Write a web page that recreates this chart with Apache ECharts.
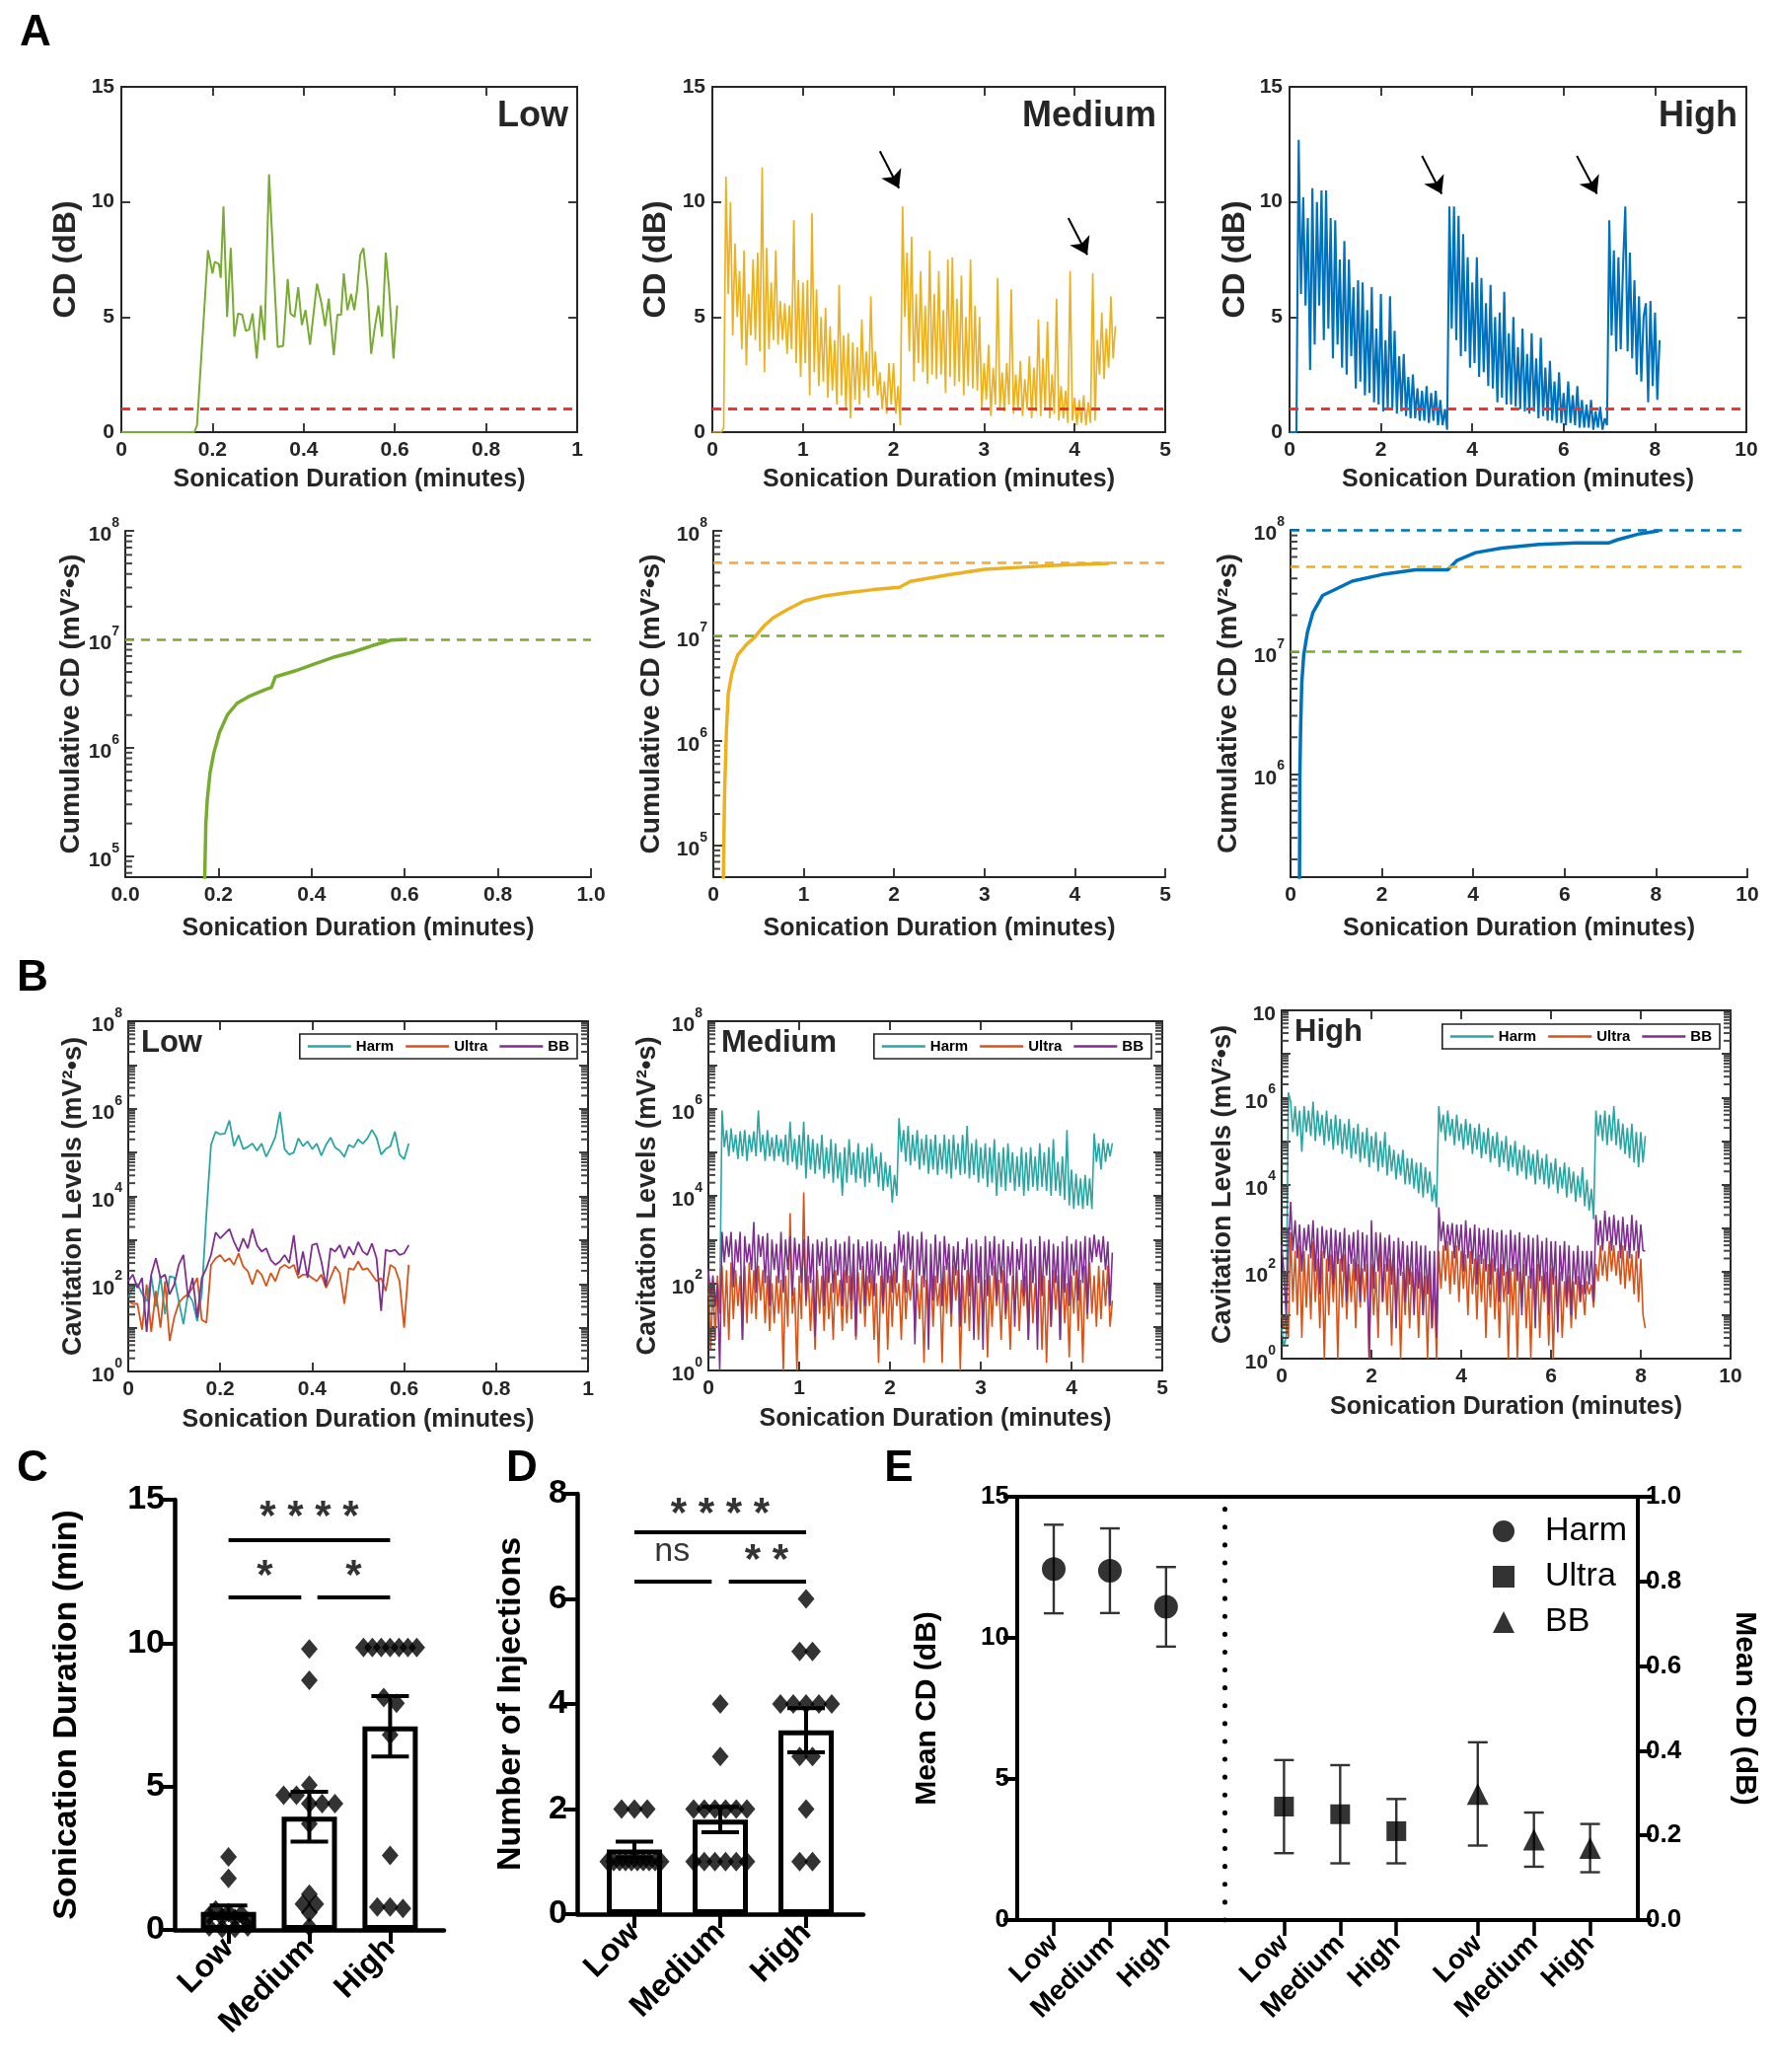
<!DOCTYPE html>
<html><head><meta charset="utf-8">
<script src="https://cdn.jsdelivr.net/npm/echarts@6/dist/echarts.min.js"></script>
<style>html,body{margin:0;padding:0;background:#fff}#c{width:1797px;height:2100px}</style>
</head><body><div id="c"></div>
<script>
// ======================= DATA =======================
const groups = ['Low', 'Medium', 'High'];

// A (top row): CD traces in dB
const cdLow = [[0,0],[0.16,0],[0.166,0.3],[0.19,7.9],[0.2,6.9],[0.205,7.4],[0.214,7.3],[0.218,6.7],[0.224,9.8],[0.232,5.0],[0.24,8.0],[0.248,4.15],[0.256,5.15],[0.265,5.1],[0.273,4.4],[0.28,4.45],[0.288,5.15],[0.297,3.2],[0.306,5.5],[0.314,4.0],[0.324,11.2],[0.343,3.7],[0.355,3.75],[0.365,6.65],[0.371,5.15],[0.38,5.0],[0.388,6.3],[0.396,4.65],[0.404,5.3],[0.414,3.8],[0.429,6.45],[0.439,5.6],[0.447,4.6],[0.455,5.8],[0.466,3.35],[0.474,5.1],[0.482,5.1],[0.488,6.9],[0.496,5.3],[0.504,6.0],[0.511,5.3],[0.517,6.15],[0.524,7.7],[0.531,8.0],[0.54,6.3],[0.548,3.4],[0.556,4.55],[0.564,5.5],[0.572,4.15],[0.58,7.8],[0.587,6.3],[0.597,3.2],[0.605,5.5]];
const cdMedStep = 0.025;
const cdMed = [0,0, 0,0, 0,0.2, 11.1,6.0, 10.0,4.2, 8.2,5.0, 7.0,3.6, 7.9,2.9, 6.0,4.2, 7.5,4.0,
  7.8,3.5, 11.5,2.6, 8.0,3.6, 6.5,4.0, 7.9,3.8, 5.7,4.0, 5.6,3.4, 5.5,3.6, 9.2,3.0, 6.6,2.4,
  6.5,3.0, 6.6,1.6, 9.5,2.6, 6.2,2.0, 5.0,2.2, 5.4,1.5, 4.6,1.8, 4.0,1.2, 6.4,1.6, 4.2,1.0,
  4.3,0.6, 3.9,1.4, 3.7,1.2, 4.9,1.8, 3.5,1.5, 5.9,2.0, 3.5,1.6, 2.6,1.0, 2.2,0.8, 3.0,1.2,
  3.0,0.8, 2.0,0.3, 9.8,5.0, 7.8,3.5, 8.5,2.2, 6.0,3.0, 7.0,2.6, 5.5,2.1, 7.9,2.5, 6.0,2.3,
  7.0,2.5, 5.3,1.7, 7.5,2.4, 7.6,2.0, 5.8,2.2, 6.8,1.6, 5.0,2.0, 7.5,1.9, 5.5,1.8, 5.0,1.0,
  3.0,1.4, 3.8,0.7, 2.8,1.2, 6.7,1.0, 2.6,0.9, 3.0,1.2, 6.2,0.8, 2.5,1.0, 3.1,0.7, 2.3,1.0,
  3.3,0.6, 2.8,0.9, 4.9,0.7, 3.2,1.0, 4.8,0.6, 2.5,0.8, 5.8,0.5, 2.0,0.6, 1.8,0.4, 7.0,0.5,
  1.5,0.3, 1.4,0.4, 1.6,0.3, 1.3,0.4, 6.9,0.5, 4.0,2.5, 5.2,2.3, 4.5,2.8, 5.9,3.2, 4.6];
const cdHighStep = 0.05;
const cdHigh = [0,0,0,0,12.7,6.0,10.2,5.5,9.3,2.7,10.6,3.8,10.0,5.5,10.5,4.0,10.5,4.5,9.3,3.2,9.2,3.8,7.5,2.8,8.3,2.5,7.5,3.3,6.3,1.9,6.6,2.2,6.5,1.6,5.3,1.7,6.3,1.3,4.5,1.2,6.0,0.9,4.0,1.0,5.9,1.0,4.4,0.8,3.3,0.9,3.4,0.7,2.4,0.6,2.5,0.6,1.9,0.5,1.8,0.5,2.0,0.4,1.7,0.5,1.8,0.3,1.4,0.3,1.0,0.1,9.8,4.5,9.8,4.0,9.4,3.3,8.6,3.5,7.6,2.8,6.5,3.0,7.6,2.4,6.7,2.6,5.6,2.0,6.4,1.9,5.0,1.3,5.2,1.5,6.1,1.2,4.3,1.2,5.0,1.1,3.7,1.0,4.5,0.9,3.4,0.8,4.3,0.9,3.2,0.6,4.1,0.7,2.8,0.5,3.1,0.5,2.2,0.4,2.6,0.4,1.7,0.3,2.2,0.4,1.6,0.3,2.0,0.2,1.4,0.2,1.2,0.2,1.4,0.1,0.9,0.2,1.1,0.1,0.6,0.3,9.2,4.2,7.9,3.5,7.6,3.6,7.2,9.8,3.5,7.8,3.2,6.6,2.5,5.9,2.2,5.0,5.6,1.3,5.7,2.0,5.2,1.4,4.0];
const cdThreshold = 1;
const arrowsMed = [[[1.85,12.2],[2.06,10.6]], [[3.93,9.3],[4.14,7.7]]];
const arrowsHigh = [[[2.9,12.0],[3.33,10.35]], [[6.29,12.0],[6.73,10.35]]];

// A (second row): cumulative CD (mV^2*s)
const cumLow = [[0.170,5e4],[0.173,2e5],[0.176,3.3e5],[0.182,5.9e5],[0.19,8.9e5],[0.202,1.38e6],[0.219,2.0e6],[0.24,2.57e6],[0.264,2.95e6],[0.298,3.4e6],[0.314,3.6e6],[0.322,4.5e6],[0.364,5.1e6],[0.405,5.9e6],[0.446,6.8e6],[0.488,7.6e6],[0.529,8.7e6],[0.57,9.8e6],[0.605,1.0e7]];
const cumMed = [[0.11,4e4],[0.123,2.8e5],[0.144,1.2e6],[0.165,2.8e6],[0.206,4.4e6],[0.267,6.5e6],[0.37,8.3e6],[0.45,9.5e6],[0.556,1.23e7],[0.66,1.48e7],[0.82,1.78e7],[1.0,2.14e7],[1.23,2.4e7],[1.48,2.57e7],[1.77,2.75e7],[2.06,2.9e7],[2.18,3.3e7],[2.59,3.8e7],[3.0,4.3e7],[3.42,4.5e7],[3.83,4.7e7],[4.38,4.9e7]];
const cumHigh = [[0.195,1e5],[0.205,1e6],[0.22,2.3e6],[0.245,5.5e6],[0.29,9.5e6],[0.37,1.45e7],[0.49,2.1e7],[0.7,2.9e7],[0.94,3.2e7],[1.35,3.8e7],[2.0,4.3e7],[2.74,4.7e7],[3.44,4.7e7],[3.64,5.6e7],[4.05,6.5e7],[4.62,7.1e7],[5.44,7.6e7],[6.26,7.8e7],[6.96,7.8e7],[7.16,8.3e7],[7.65,9.3e7],[8.06,9.8e7]];
const cumTargets = [1e7, 5e7, 1e8];

// B: cavitation levels (mV^2*s)
const bLowStep = 0.01;
const harmLow = [50,80,100,60,40,150,30,150,20,150,140,40,12,60,40,14,60,4e3,1.5e5,3e5,2.6e5,2.7e5,5.4e5,1.4e5,2.5e5,1.2e5,1.35e5,1.6e5,1.1e5,1.6e5,8e4,1.3e5,2.3e5,8.5e5,1.2e5,9e4,1e5,2.1e5,1.4e5,1.8e5,1.2e5,1.6e5,8.5e4,1.5e5,2.2e5,1.3e5,1.1e5,8e4,1.5e5,1.3e5,2e5,1.6e5,2.1e5,3.3e5,2.2e5,9e4,1.2e5,1.4e5,3e5,9e4,7e4,1.6e5];
const ultraLow = [41,35,35,9,97,8,69,10,115,5,17,37,49,58,81,137,15,13,273,387,458,325,387,273,500,250,195,97,210,163,89,177,115,229,273,229,273,137,163,163,137,115,163,81,137,250,177,35,229,210,325,210,229,163,115,137,69,273,229,115,10,273];
const bbLow = [115,163,81,137,8,163,387,137,163,58,97,273,458,49,137,17,137,229,458,1.5e3,1.1e3,1.4e3,1.8e3,910,550,1.1e3,650,1.8e3,770,550,650,350,273,325,458,300,1.3e3,163,550,137,770,840,325,89,650,550,770,387,710,458,910,550,458,840,387,24,600,550,600,458,500,770];
const bMedStep = 0.025;
const harmMed = [60,30, 100,40, 60,30, 9e5,1.3e5, 3.2e5,8e4, 3.5e5,1e5, 2.5e5,7e4, 3e5,8e4, 3.2e5,6.3e4, 2.5e5,1e5,
  3e5,8e4, 9e5,1e5, 2.5e5,6.3e4, 3.2e5,8e4, 2.2e5,6.3e4, 2.5e5,8e4, 2e5,6e4, 2.5e5,5e4, 5e5,6e4, 2e5,4e4,
  2.5e5,5e4, 5e5,2.5e4, 2.5e5,4e4, 2e5,3.2e4, 1.6e5,4e4, 2.5e5,2.5e4, 1.3e5,3.2e4, 2e5,2e4, 1.6e5,2.5e4, 1e5,1e4,
  1.3e5,2e4, 2e5,3e4, 1e5,2e4, 1.6e5,2.5e4, 1e5,1.6e4, 1.3e5,2e4, 1.6e5,3.2e4, 8e4,1.6e4, 1e5,1.3e4, 6e4,1.6e4,
  5e4,7e3, 3e4,1e4, 6e5,1e5, 3.2e5,6e4, 4e5,5e4, 2.5e5,6.3e4, 3.2e5,4e4, 2e5,5e4, 2.5e5,3.2e4, 2e5,4e4,
  2.5e5,3e4, 1.6e5,4e4, 2.5e5,3.2e4, 2e5,2.5e4, 2.5e5,4e4, 1.6e5,3e4, 2.5e5,3.2e4, 4e5,2.5e4, 1.6e5,3e4, 2e5,2e4,
  1.3e5,2.5e4, 1.6e5,1.6e4, 1.3e5,2e4, 2e5,1e4, 1e5,1.6e4, 1.3e5,1.3e4, 1.6e5,2e4, 1e5,1.3e4, 8e4,1.6e4, 1.3e5,1e4,
  1e5,1.3e4, 1.3e5,1.6e4, 8e4,1.3e4, 1.6e5,1.6e4, 1e5,1.3e4, 1.3e5,1e4, 2e5,1.3e4, 6e4,1e4, 8e4,8e3, 3.2e5,6e3,
  4e4,5e3, 3.2e4,6e3, 2.5e4,5e3, 3e4,6e3, 2.5e4,5e3, 2.7e5,6e4, 1.6e5,4e4, 2e5,6e4, 1.6e5,8e4, 1.6e5];
const ultraMed = [200,3, 100,5, 150,20, 250,10, 200,5, 300,15, 200,30, 150,5, 250,12, 300,20,
  200,15, 250,40, 200,12, 150,8, 100,12, 150,20, 120,1, 150,10, 4e3,20, 80,1,
  150,15, 1.2e4,30, 150,8, 120,3, 200,20, 150,8, 250,15, 100,5, 200,30, 120,8,
  200,12, 150,15, 250,5, 180,20, 250,10, 150,30, 200,5, 100,1.5, 150,20, 250,3,
  150,10, 200,30, 100,5, 250,15, 120,40, 200,8, 100,15, 150,1.5, 120,20, 200,10,
  150,30, 100,1.5, 250,20, 300,10, 250,40, 200,1, 150,12, 200,8, 250,20, 150,5,
  200,15, 120,2, 150,10, 250,30, 120,5, 200,15, 100,3, 150,20, 200,8, 120,30,
  150,5, 200,12, 100,20, 250,3, 150,1.5, 120,10, 200,25, 150,5, 250,12, 100,2,
  150,20, 200,8, 120,1.5, 250,15, 300,20, 150,10, 250,15, 200,30, 250,10, 40];
const bbMed = [200,50, 150,30, 100,1, 1.5e3,300, 1.2e3,400, 1.5e3,80, 1e3,300, 1.5e3,5, 1.2e3,300, 800,200,
  2.5e3,60, 1.3e3,400, 1.2e3,100, 1.4e3,30, 1e3,200, 800,100, 1.5e3,60, 1e3,200, 1.2e3,50, 1.1e3,200,
  800,100, 1e3,40, 1.2e3,100, 800,6, 1e3,250, 900,30, 1.1e3,100, 700,60, 1e3,150, 800,30,
  900,100, 1.2e3,40, 800,6, 1e3,200, 700,30, 900,100, 1e3,50, 800,150, 900,30, 700,100,
  500,60, 800,100, 1.6e3,300, 1.3e3,60, 1.5e3,200, 1.2e3,4, 1e3,150, 1.5e3,80, 1e3,3, 800,40,
  1.3e3,100, 900,30, 1.2e3,200, 800,20, 700,150, 900,10, 600,200, 1.1e3,50, 800,5, 1e3,100,
  700,3, 1.2e3,50, 900,150, 1.2e3,40, 800,100, 1e3,20, 700,150, 900,10, 600,200, 1.1e3,50,
  800,5, 1e3,100, 700,3, 1.2e3,50, 900,150, 1e3,10, 800,100, 700,5, 900,60, 1.2e3,30,
  800,150, 1e3,40, 900,100, 1.2e3,20, 1.1e3,300, 1.3e3,400, 1e3,300, 1.2e3,200, 900,30, 500];
const bHighStep = 0.05;
const harmHigh = [5,2, 3,1.3e6, 8e5,1.6e5, 6.3e5,1.3e5, 5e5,5.6e4, 6.3e5,1.6e5, 5e5,1.3e5, 8e5,1e5, 5e5,1.3e5, 4e5,8e4,
  5e5,1e5, 3.2e5,6.3e4, 4e5,8e4, 3.2e5,5e4, 2.5e5,6.3e4, 3.2e5,4e4, 2e5,5e4, 2.5e5,3.2e4, 1.6e5,4e4, 2e5,2.5e4,
  1.3e5,3.2e4, 1.6e5,2e4, 1e5,2.5e4, 1.6e5,1.6e4, 8e4,2e4, 6.3e4,1.3e4, 5e4,1.6e4, 6.3e4,1e4, 4e4,1e4, 4e4,8e3,
  3.2e4,6.3e3, 3.2e4,5e3, 2.5e4,6.3e3, 2e4,4e3, 1e4,3e3, 6.3e5,1.6e5, 4e5,1e5, 5e5,1.3e5, 3.2e5,8e4, 4e5,1e5,
  2.5e5,6.3e4, 3.2e5,8e4, 2.5e5,5e4, 2e5,6.3e4, 2.5e5,4e4, 1.6e5,5e4, 2e5,3.2e4, 1.3e5,4e4, 1.6e5,2.5e4, 1e5,3.2e4,
  1.3e5,2e4, 8e4,2.5e4, 1e5,1.6e4, 6.3e4,2e4, 8e4,1.3e4, 6.3e4,1.6e4, 5e4,1e4, 6.3e4,1.3e4, 4e4,1e4, 5e4,8e3,
  3.2e4,1e4, 4e4,6.3e3, 2.5e4,8e3, 3.2e4,5e3, 2.5e4,6.3e3, 2e4,4e3, 1.6e4,5e3, 2.5e4,3.2e3, 1.3e4,2.5e3, 8e3,1.6e3,
  5e5,1.3e5, 4e5,1e5, 5e5,8e4, 4e5,1e5, 6.3e5,8e4, 3.2e5,6.3e4, 2.5e5,5e4, 2e5,4e4, 2.5e5,3.2e4, 1.6e5,2.5e4,
  1.6e5,3.2e4, 1.3e5];
const ultraHigh = [10,5, 8,3, 800,20, 300,10, 400,3, 300,15, 250,8, 500,20, 200,5, 300,1,
  200,10, 250,20, 300,1, 200,15, 250,8, 150,20, 200,5, 150,15, 120,20, 150,1,
  150,10, 100,3, 800,20, 150,10, 200,2, 150,15, 120,1, 100,10, 150,5, 100,20,
  120,3, 100,10, 80,1, 100,5, 60,1, 300,40, 400,60, 500,30, 300,50, 400,20,
  300,40, 250,10, 300,30, 200,8, 250,20, 200,3, 150,15, 200,8, 120,3, 150,20,
  100,1, 120,10, 150,1, 100,15, 150,5, 80,1, 120,10, 150,3, 80,20, 100,2,
  120,1, 80,10, 100,3, 60,15, 80,5, 60,8, 80,20, 50,10, 60,30, 50,15,
  150,60, 400,80, 300,60, 500,100, 400,80, 300,50, 400,40, 300,60, 250,30, 300,20,
  200,10, 5];
const bbHigh = [400,100, 10,300, 4e3,300, 1.5e3,200, 1.2e3,100, 1e3,300, 1.2e3,200, 1.5e3,100, 1e3,30, 1.1e3,200,
  900,100, 1e3,50, 900,150, 800,100, 1e3,20, 700,150, 800,60, 900,20, 800,100, 700,1,
  1.5e3,40, 800,100, 700,20, 600,100, 700,50, 500,5, 600,80, 500,20, 400,50, 500,10,
  500,40, 400,10, 400,30, 300,5, 300,3, 3e3,500, 1.4e3,300, 1.2e3,400, 1.3e3,200, 1.2e3,300,
  1.2e3,100, 1.5e3,200, 1e3,150, 1.2e3,50, 1e3,150, 900,100, 1e3,50, 900,100, 800,20, 900,80,
  700,30, 900,100, 700,60, 800,10, 600,80, 700,40, 600,5, 700,60, 500,30, 600,10,
  500,50, 500,4, 400,60, 500,20, 400,10, 300,50, 400,20, 300,30, 300,50, 300,20,
  2e3,400, 1.5e3,300, 2.5e3,500, 1.8e3,300, 2e3,400, 1.5e3,200, 1.8e3,300, 1.2e3,200, 2e3,300, 1.5e3,200,
  1.2e3,300, 300];

// C: sonication duration (min)
const durLow = [2.55,1.8,0.7,0.6,0.55,0.5,0.45,0.4,0.3,0.1,0.05,0.05,0.1];
const durMed = [9.8,8.7,5.05,4.7,4.7,4.4,4.4,4.4,3.7,1.25,0.9,0.9,0.6,0.1];
const durHigh = [9.85,9.85,9.85,9.85,9.85,9.85,9.85,8.1,7.9,6.8,2.6,0.8,0.8,0.75];
const durMean = [0.63, 3.95, 7.1];
const durSem = [0.22, 0.87, 1.05];
const durSig = [{s:'* * * *', from:1, to:3, line:13.6, text:14.35, at:2}, {s:'*', from:1, to:1.9, line:11.6, text:12.3, at:1.45}, {s:'*', from:2.1, to:3, line:11.6, text:12.3, at:2.55}];

// D: number of injections
const injLow = [2,2,2,1,1,1,1,1,1,1,1,1,1];
const injMed = [4,3,2,2,2,2,2,2,1,1,1,1,1,1];
const injHigh = [6,5,5,4,4,4,4,4,3,3,2,1,1];
const injMean = [1.23, 1.8, 3.5];
const injSem = [0.15, 0.24, 0.42];
const injSig = [{s:'* * * *', from:1, to:3, line:7.27, text:7.6, at:2}, {s:'ns', from:1, to:1.9, line:6.33, text:6.9, at:1.44, regular:true}, {s:'* *', from:2.1, to:3, line:6.33, text:6.71, at:2.54}];

// E: mean CD (dB) - Harm on left axis, Ultra/BB on right axis
const eHarmMean = [12.44, 12.38, 11.1],  eHarmSd = [1.57, 1.5, 1.41];
const eUltraMean = [0.268, 0.25, 0.21], eUltraSd = [0.11, 0.116, 0.076];
const eBBMean = [0.298, 0.19, 0.17],    eBBSd = [0.122, 0.064, 0.057];

// ======================= LAYOUT / STYLE =======================
const FF = '"Liberation Sans", Arial, Helvetica, sans-serif';
const AX = '#262626', K = '#000';
const COL = {low:'#77AC30', med:'#EDB120', high:'#0072BD', red:'#FF2D2D', harm:'#2AA6A2', ultra:'#D95319', bb:'#7E2F8E'};
const LAY = {
  a1: [{l:123,t:88,w:462,h:350},{l:722,t:88,w:459,h:350},{l:1307,t:88,w:463,h:350}],
  a2: [{l:127,t:538,w:472,h:351},{l:723,t:538,w:458,h:351},{l:1308,t:537,w:463,h:352}],
  b:  [{l:130,t:1035,w:466,h:355},{l:718,t:1035,w:460,h:354},{l:1299,t:1024,w:455,h:353}],
  c: {l:177,t:1520,w:273,h:436},
  d: {l:585,t:1514,w:290,h:426},
  e: {l:1031,t:1517,w:629,h:429}
};
const eGroupStart = [1, 5.1, 8.55];
const eDivider = 4.05;

// ======================= BUILD =======================
const opt = {animation:false, backgroundColor:'#fff', textStyle:{fontFamily:FF}, grid:[], xAxis:[], yAxis:[], series:[], legend:[], graphic:[]};
const addGrid = b => { opt.grid.push({left:b.l, top:b.t, width:b.w, height:b.h, containLabel:false, outerBoundsMode:'none'}); return opt.grid.length - 1; };
const xa = o => { opt.xAxis.push(o); return opt.xAxis.length - 1; };
const ya = o => { opt.yAxis.push(o); return opt.yAxis.length - 1; };
const lbl = (size, extra) => Object.assign({fontSize:size, fontWeight:'bold', color:AX, fontFamily:FF}, extra || {});
const gridded = (arr, step) => arr.map((v, i) => [Math.round(i * step * 1000) / 1000, v]);
const noSplit = {show:false};

const supRich = {
  b: {fontSize:21, fontWeight:'bold', color:AX, fontFamily:FF, lineHeight:30, verticalAlign:'bottom'},
  s: {fontSize:14, fontWeight:'bold', color:AX, fontFamily:FF, verticalAlign:'top'}
};
function supFmt(hideOdd, plainTop) {
  return function (v) {
    const e = Math.round(Math.log10(v));
    if (Math.abs(v / Math.pow(10, e) - 1) > 1e-6) return '';
    if (hideOdd && e % 2) return '';
    if (plainTop != null && e === plainTop) return '{b|10}';
    return '{b|10}{s|' + e + '}';
  };
}

function matlabAxes(gi, xs, ys, yName, yGap, box) {
  const L = {show:true, onZero:false, lineStyle:{color:AX, width:2}};
  const T = {show:true, inside:true, length:9, lineStyle:{color:AX, width:1.8}};
  const xScale = {type:'value', min:xs.min, max:xs.max, interval:xs.interval};
  const x = xa(Object.assign({gridIndex:gi, position:'bottom', axisLine:L, axisTick:T, splitLine:noSplit,
    axisLabel: lbl(21, {margin:8, formatter: xs.fmt, showMinLabel:true, showMaxLabel:true}),
    name:'Sonication Duration (minutes)', nameLocation:'middle', nameGap:xs.nameGap, nameTextStyle: lbl(25)}, xScale));
  const y = ya(Object.assign({gridIndex:gi, position:'left', axisLine:L, axisTick:T, splitLine:noSplit,
    axisLabel: ys.label, name:yName, nameLocation:'middle', nameRotate:90, nameGap:yGap, nameTextStyle: lbl(ys.nameSize)}, ys.scale));
  if (box) {
    xa(Object.assign({gridIndex:gi, position:'top', axisLine:L, axisTick:T, axisLabel:{show:false}, splitLine:noSplit}, xScale));
    ya(Object.assign({gridIndex:gi, position:'right', axisLine:L, axisTick:T, axisLabel:{show:false}, splitLine:noSplit}, ys.scale));
  }
  return {x, y};
}
function line(ax, data, color, width, extra) {
  opt.series.push(Object.assign({type:'line', xAxisIndex:ax.x, yAxisIndex:ax.y, data, symbol:'none', showSymbol:false,
    lineStyle:{color, width}, itemStyle:{color}, silent:true, z:3}, extra || {}));
}
function hLines(items) {
  return {silent:true, symbol:['none','none'], label:{show:false}, animation:false,
    data: items.map(it => ({yAxis: it.v, lineStyle:{color:it.c, width:it.w, type:it.d}}))};
}
// minor ticks of a log axis (2..9 x 10^n), drawn through the axis scale
function logMinorTicks(xi, yi, ymin, ymax, xAt, dir, len) {
  const vals = [];
  for (let e = Math.floor(Math.log10(ymin)); e < Math.ceil(Math.log10(ymax)); e++) {
    for (let m = 2; m <= 9; m++) { const v = m * Math.pow(10, e); if (v > ymin && v < ymax) vals.push([xAt, v]); }
  }
  opt.series.push({type:'custom', xAxisIndex:xi, yAxisIndex:yi, silent:true, z:4, clip:false, data: vals,
    renderItem: (p, api) => {
      const c = api.coord([api.value(0), api.value(1)]);
      return {type:'line', shape:{x1:c[0], y1:c[1], x2:c[0] + dir * len, y2:c[1]}, style:{stroke:'#444', lineWidth:2}};
    }});
}
function txt(text, x, y, size, align, weight, color) {
  opt.graphic.push({type:'text', silent:true, z:100, style:{text, x, y, textAlign:align, textVerticalAlign:'middle',
    font:(weight || 'bold') + ' ' + size + 'px ' + FF, fill: color || AX}});
}

// ---------- Panel A, row 1 ----------
const a1Defs = [
  {data: cdLow, color: COL.low, xmax:1, xint:0.2, yGap:40, name:'Low', arrows:null, w:2},
  {data: gridded(cdMed, cdMedStep), color: COL.med, xmax:5, xint:1, yGap:41, name:'Medium', arrows:arrowsMed, w:1.7},
  {data: gridded(cdHigh, cdHighStep), color: COL.high, xmax:10, xint:2, yGap:39, name:'High', arrows:arrowsHigh, w:2.1}
];
a1Defs.forEach((d, i) => {
  const b = LAY.a1[i];
  const gi = addGrid(b);
  const ax = matlabAxes(gi, {min:0, max:d.xmax, interval:d.xint, nameGap:36},
    {scale:{type:'value', min:0, max:15, interval:5}, label: lbl(21, {margin:7}), nameSize:32}, 'CD (dB)', d.yGap, true);
  line(ax, d.data, d.color, d.w, {markLine: hLines([{v:cdThreshold, c:COL.red, w:3, d:[9,7]}])});
  if (d.arrows) {
    opt.series.push({type:'lines', coordinateSystem:'cartesian2d', xAxisIndex:ax.x, yAxisIndex:ax.y, silent:true, z:6,
      symbol:['none','arrow'], symbolSize:17, lineStyle:{color:K, width:2, opacity:1, curveness:0},
      data: d.arrows.map(c => ({coords:c}))});
  }
  txt(d.name, b.l + b.w - 9, b.t + 30, 36, 'right', 'bold', AX);
});

// ---------- Panel A, row 2 ----------
const a2Defs = [
  {data: cumLow, color: COL.low, xmax:1, xint:0.2, ymin:6.4e4, yGap:39, fmt: v => v.toFixed(1), lines:[{v:cumTargets[0], c:COL.low}]},
  {data: cumMed, color: COL.med, xmax:5, xint:1, ymin:5e4, yGap:49, fmt:null, lines:[{v:cumTargets[1], c:COL.med}, {v:cumTargets[0], c:COL.low}]},
  {data: cumHigh, color: COL.high, xmax:10, xint:2, ymin:1.43e5, yGap:49, fmt:null, lines:[{v:cumTargets[2], c:COL.high}, {v:cumTargets[1], c:COL.med}, {v:cumTargets[0], c:COL.low}]}
];
a2Defs.forEach((d, i) => {
  const b = LAY.a2[i];
  const gi = addGrid(b);
  const ax = matlabAxes(gi, {min:0, max:d.xmax, interval:d.xint, nameGap:40, fmt: d.fmt || undefined},
    {scale:{type:'log', logBase:10, min:d.ymin, max:1e8}, label: lbl(21, {margin:6, formatter: supFmt(false, null), rich: supRich}), nameSize:28},
    'Cumulative CD (mV²•s)', d.yGap, false);
  logMinorTicks(ax.x, ax.y, d.ymin, 1e8, 0, 1, 7);
  line(ax, d.data, d.color, 3.5, {markLine: hLines(d.lines.map(l => ({v:l.v, c:l.c, w:2.6, d:[9,7]})))});
});

// ---------- Panel B ----------
const bDefs = [
  {step:bLowStep, harm:harmLow, ultra:ultraLow, bb:bbLow, xmax:1, xint:0.2, yGap:42, name:'Low', plainTop:null, w:1.8},
  {step:bMedStep, harm:harmMed, ultra:ultraMed, bb:bbMed, xmax:5, xint:1, yGap:48, name:'Medium', plainTop:null, w:1.6},
  {step:bHighStep, harm:harmHigh, ultra:ultraHigh, bb:bbHigh, xmax:10, xint:2, yGap:46, name:'High', plainTop:8, w:1.6}
];
bDefs.forEach((d, i) => {
  const b = LAY.b[i];
  const gi = addGrid(b);
  const ax = matlabAxes(gi, {min:0, max:d.xmax, interval:d.xint, nameGap:37},
    {scale:{type:'log', logBase:10, min:1, max:1e8}, label: lbl(21, {margin:6, formatter: supFmt(true, d.plainTop), rich: supRich}), nameSize:27},
    'Cavitation Levels (mV²•s)', d.yGap, true);
  logMinorTicks(ax.x, ax.y, 1, 1e8, 0, 1, 7);
  logMinorTicks(ax.x, ax.y, 1, 1e8, d.xmax, -1, 7);
  line(ax, gridded(d.harm, d.step), COL.harm, d.w, {name:'Harm'});
  line(ax, gridded(d.ultra, d.step), COL.ultra, d.w, {name:'Ultra'});
  line(ax, gridded(d.bb, d.step), COL.bb, d.w, {name:'BB'});
  opt.legend.push({data:['Harm','Ultra','BB'], selectedMode:false, orient:'horizontal', icon:'rect',
    right: 1797 - (b.l + b.w) + 11, top: b.t + (i === 2 ? 14 : 13), itemWidth:44, itemHeight:2.5, itemGap:12,
    padding:[5,8,5,8], borderColor:'#222', borderWidth:1.6, backgroundColor:'#fff',
    textStyle: lbl(15, {color:K})});
  txt(d.name, b.l + 13, b.t + 22, 31, 'left', 'bold', AX);
});

// ---------- Prism-style helpers (C, D) ----------
const PL = w => ({show:true, onZero:false, lineStyle:{color:K, width:w}});
const PT = (len, w) => ({show:true, inside:false, length:len, lineStyle:{color:K, width:w}});
function errBars(xi, yi, rows, color, capHalf, width, z) {
  opt.series.push({type:'custom', xAxisIndex:xi, yAxisIndex:yi, silent:true, z: z || 4, data: rows, encode:{x:0, y:[1,2]},
    renderItem: (p, api) => {
      const x = api.value(0), lo = api.value(1), hi = api.value(2);
      const a = api.coord([x, lo]), c = api.coord([x, hi]);
      const st = {stroke: color, lineWidth: width};
      return {type:'group', children:[
        {type:'line', shape:{x1:a[0], y1:a[1], x2:c[0], y2:c[1]}, style:st},
        {type:'line', shape:{x1:a[0]-capHalf, y1:a[1], x2:a[0]+capHalf, y2:a[1]}, style:st},
        {type:'line', shape:{x1:c[0]-capHalf, y1:c[1], x2:c[0]+capHalf, y2:c[1]}, style:st}
      ]};
    }});
}
function swarmOffsets(vals, bin, maxSp, maxW) {
  const g = new Map();
  vals.forEach((v, i) => { const k = Math.round(v / bin); if (!g.has(k)) g.set(k, []); g.get(k).push(i); });
  const off = vals.map(() => 0);
  g.forEach(idx => { const n = idx.length; const sp = n > 1 ? Math.min(maxSp, maxW / (n - 1)) : 0; idx.forEach((i, j) => { off[i] = (j - (n - 1) / 2) * sp; }); });
  return off;
}
function prismPanel(box, cfg) {
  const gi = addGrid(box);
  const pos = groups.map((g, i) => i + 1);
  const x = xa({gridIndex:gi, type:'value', min:1/3, max:11/3, axisLine:PL(4.5), splitLine:noSplit,
    axisTick: Object.assign(PT(14, 4), {customValues:pos}),
    axisLabel: lbl(32, {color:K, customValues:pos, rotate:45, margin:14, formatter: v => groups[Math.round(v) - 1]})});
  const y = ya({gridIndex:gi, type:'value', min:0, max:cfg.ymax, interval:cfg.yint, axisLine:PL(4.5), axisTick:PT(14, 4), splitLine:noSplit,
    axisLabel: lbl(34, {color:K, margin:10}), name:cfg.yName, nameLocation:'middle', nameRotate:90, nameGap:cfg.yGap, nameTextStyle: lbl(34, {color:K})});
  opt.series.push({type:'bar', xAxisIndex:x, yAxisIndex:y, barWidth:56, silent:true, z:2,
    data: cfg.means.map((m, i) => [pos[i], m]), itemStyle:{color:'#fff', borderColor:K, borderWidth:5}});
  errBars(x, y, cfg.means.map((m, i) => [pos[i], m - cfg.sems[i], m + cfg.sems[i]]), K, 19, 4, 3);
  cfg.points.forEach((vals, i) => {
    const off = swarmOffsets(vals, cfg.bin, 13, 54);
    opt.series.push({type:'scatter', xAxisIndex:x, yAxisIndex:y, symbol:'diamond', symbolSize:[17,20], silent:true, z:5,
      itemStyle:{color:K}, data: vals.map((v, j) => ({value:[pos[i], v], symbolOffset:[off[j], 0]}))});
  });
  opt.series.push({type:'lines', coordinateSystem:'cartesian2d', xAxisIndex:x, yAxisIndex:y, silent:true, z:5, symbol:'none',
    lineStyle:{color:K, width:4, opacity:1}, data: cfg.sig.map(s => ({coords:[[s.from, s.line], [s.to, s.line]]}))});
  opt.series.push({type:'scatter', xAxisIndex:x, yAxisIndex:y, symbolSize:1, silent:true, z:6, itemStyle:{color:'rgba(0,0,0,0)'},
    data: cfg.sig.map(s => ({value:[s.at, s.text], label:{show:true, position:'inside', formatter:s.s, color:K, fontFamily:FF,
      fontSize: s.regular ? 34 : 42, fontWeight: s.regular ? 'normal' : 'bold'}}))});
}
prismPanel(LAY.c, {ymax:15, yint:5, yName:'Sonication Duration (min)', yGap:92, means:durMean, sems:durSem,
  points:[durLow, durMed, durHigh], bin:0.35, sig:durSig});
prismPanel(LAY.d, {ymax:8, yint:2, yName:'Number of Injections', yGap:50, means:injMean, sems:injSem,
  points:[injLow, injMed, injHigh], bin:0.5, sig:injSig});

// ---------- Panel E ----------
(function () {
  const b = LAY.e;
  const gi = addGrid(b);
  const posH = groups.map((g, i) => eGroupStart[0] + i);
  const posU = groups.map((g, i) => eGroupStart[1] + i);
  const posB = groups.map((g, i) => eGroupStart[2] + i);
  const allPos = posH.concat(posU, posB);
  const labelAt = v => { const k = allPos.findIndex(p => Math.abs(p - v) < 1e-6); return k < 0 ? '' : groups[k % 3]; };
  const xMin = 0.35, xMax = 11.4;
  const x = xa({gridIndex:gi, type:'value', min:xMin, max:xMax, position:'bottom', axisLine:PL(4), splitLine:noSplit,
    axisTick: Object.assign(PT(16, 3.5), {customValues:allPos}),
    axisLabel: lbl(28, {color:K, customValues:allPos, rotate:45, margin:20, formatter:labelAt})});
  xa({gridIndex:gi, type:'value', min:xMin, max:xMax, position:'top', axisLine:PL(4), axisTick:{show:false}, axisLabel:{show:false}, splitLine:noSplit});
  const yl = ya({gridIndex:gi, type:'value', min:0, max:15, interval:5, position:'left', axisLine:PL(4), axisTick:PT(14, 4), splitLine:noSplit,
    axisLabel: lbl(26, {color:K, margin:8}), name:'Mean CD (dB)', nameLocation:'middle', nameRotate:90, nameGap:76, nameTextStyle: lbl(30, {color:K})});
  const yr = ya({gridIndex:gi, type:'value', min:0, max:1, interval:0.2, position:'right', axisLine:PL(4), axisTick:PT(14, 4), splitLine:noSplit,
    axisLabel: lbl(26, {color:K, margin:8, formatter: v => v.toFixed(1)}), name:'Mean CD (dB)', nameLocation:'middle', nameRotate:-90, nameGap:93, nameTextStyle: lbl(30, {color:K})});
  opt.series.push({type:'lines', coordinateSystem:'cartesian2d', xAxisIndex:x, yAxisIndex:yl, silent:true, z:2, symbol:'none',
    lineStyle:{color:K, width:5, type:[0.1, 18], cap:'round', opacity:1}, data:[{coords:[[eDivider, 0], [eDivider, 15]]}]});
  const ec = '#333';
  errBars(x, yl, eHarmMean.map((m, i) => [posH[i], m - eHarmSd[i], m + eHarmSd[i]]), ec, 10, 2.4, 3);
  errBars(x, yr, eUltraMean.map((m, i) => [posU[i], m - eUltraSd[i], m + eUltraSd[i]]), ec, 10, 2.4, 3);
  errBars(x, yr, eBBMean.map((m, i) => [posB[i], m - eBBSd[i], m + eBBSd[i]]), ec, 10, 2.4, 3);
  opt.series.push({type:'scatter', name:'eHarm', xAxisIndex:x, yAxisIndex:yl, symbol:'circle', symbolSize:24, itemStyle:{color:K}, silent:true, z:5,
    data: eHarmMean.map((m, i) => [posH[i], m])});
  opt.series.push({type:'scatter', name:'eUltra', xAxisIndex:x, yAxisIndex:yr, symbol:'rect', symbolSize:20, itemStyle:{color:K}, silent:true, z:5,
    data: eUltraMean.map((m, i) => [posU[i], m])});
  opt.series.push({type:'scatter', name:'eBB', xAxisIndex:x, yAxisIndex:yr, symbol:'triangle', symbolSize:22, itemStyle:{color:K}, silent:true, z:5,
    data: eBBMean.map((m, i) => [posB[i], m])});
  opt.legend.push({data:['eHarm','eUltra','eBB'], selectedMode:false, orient:'vertical', left:1508, top:1530,
    itemWidth:22, itemHeight:22, itemGap:12, formatter: n => n.slice(1),
    textStyle:{fontSize:34, fontWeight:'normal', color:K, fontFamily:FF, padding:[0,0,0,26]}});
})();

// ---------- panel letters ----------
txt('A', 36, 34, 44, 'center', 'bold', K);
txt('B', 33, 992, 44, 'center', 'bold', K);
txt('C', 33, 1489, 44, 'center', 'bold', K);
txt('D', 529, 1489, 44, 'center', 'bold', K);
txt('E', 911, 1489, 44, 'center', 'bold', K);

const chart = echarts.init(document.getElementById('c'), null, {renderer:'canvas', width:1797, height:2100});
chart.setOption(opt);
</script>
</body></html>
